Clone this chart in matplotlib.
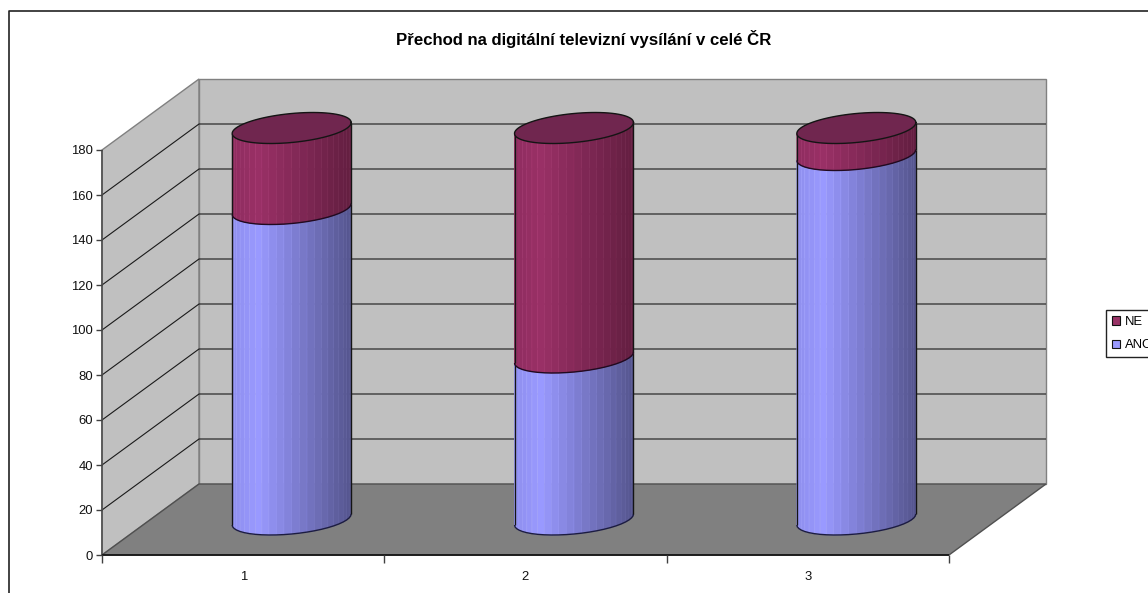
import numpy as np
import matplotlib
matplotlib.use('Agg')
import matplotlib.pyplot as plt
from matplotlib.lines import Line2D
from matplotlib.patches import Patch

categories = ['1', '2', '3']
ano = [138, 72, 162]
ne = [36, 102, 12]
ticks = [0, 20, 40, 60, 80, 100, 120, 140, 160, 180]
title = 'Přechod na digitální televizní vysílání v celé ČR'

W, H = 1148, 593
plt.rcParams['font.family'] = ['Liberation Sans', 'DejaVu Sans']
FS = 9.4

fig = plt.figure(figsize=(W / 100, H / 100), dpi=100)
# front plane of the fake 3D box, in pixels: x 102-949, y 555-150
ax = fig.add_axes([102 / W, (H - 555) / H, 847 / W, 405 / H])
ax.set_xlim(0.5, 3.5)
ax.set_ylim(0, 180)
ax.axis('off')

# depth of the box and cylinder size, in data units
DX = 97 / (847 / 3)
DY = 71 / 2.25
RX = 59.5 / (847 / 3)
RY = 14.5 / 2.25
TILT = 5.5 / 2.25
GRAY = '#808080'


def flat(xs, ys, color, z, edge='none'):
    ax.fill(xs, ys, facecolor=color, edgecolor=edge, lw=1, zorder=z, clip_on=False)


def seg(xs, ys, color, lw, z):
    ax.plot(xs, ys, color=color, lw=lw, zorder=z, clip_on=False, solid_capstyle='butt')


# walls and floor
flat([0.5, 0.5 + DX, 0.5 + DX, 0.5], [0, DY, 180 + DY, 180], '#c0c0c0', 1, GRAY)
flat([0.5 + DX, 3.5 + DX, 3.5 + DX, 0.5 + DX], [DY, DY, 180 + DY, 180 + DY], '#c0c0c0', 1, GRAY)
flat([0.5, 3.5, 3.5 + DX, 0.5 + DX], [0, 0, DY, DY], GRAY, 2, '#505050')

# gridlines
for v in ticks[1:-1]:
    seg([0.5, 0.5 + DX, 3.5 + DX], [v, v + DY, v + DY], '#1a1a1a', 0.8, 3)

# axes
seg([0.5, 0.5], [0, 180], '#505050', 1.2, 4)
seg([0.5, 3.5], [0, 0], '#101010', 1.2, 4)
for v in ticks:
    seg([0.5 - 6 / 282.3, 0.5], [v, v], '#404040', 1, 4)
    ax.text(0.5 - 9 / 282.3, v - 1.5 / 2.25, str(v), ha='right', va='center', fontsize=FS,
            color='#111111')
for b in [0.5, 1.5, 2.5, 3.5]:
    seg([b, b], [0, -8 / 2.25], '#404040', 1, 4)
for i, c in enumerate(categories):
    ax.text(i + 1, -21.5 / 2.25, c, ha='center', va='center', fontsize=FS, color='#111111')


def cylinder(cat, v0, v1, light, dark, top, z):
    cx = cat + DX / 2
    b = v0 + DY / 2
    e = v1 + DY / 2
    # front half of the ring, left to right
    t = np.linspace(np.pi, 2 * np.pi, 25)
    fx = cx + RX * np.cos(t)
    fy = RY * np.sin(t) + TILT * np.cos(t)
    peak = 0.22
    for k in range(len(t) - 1):
        pos = (0.5 * (fx[k] + fx[k + 1]) - (cx - RX)) / (2 * RX)
        mix = max(0, pos - peak) / (1 - peak)
        col = np.array(light) * (1 - mix) + np.array(dark) * mix
        if pos < peak:
            col = col * (0.93 + 0.07 * pos / peak)
        ax.fill([fx[k], fx[k + 1], fx[k + 1], fx[k]],
                [b + fy[k], b + fy[k + 1], e + fy[k + 1], e + fy[k]], facecolor=col / 255,
                edgecolor=np.minimum(col * 1.1, 255) / 255, lw=0.4, zorder=z, clip_on=False)
    seg(fx, b + fy, '#1c1c40' if v0 == 0 else '#200a20', 1, z + 0.1)
    seg([fx[0], fx[0]], [b + fy[0], e + fy[0]], '#141414', 1, z + 0.1)
    seg([fx[-1], fx[-1]], [b + fy[-1], e + fy[-1]], '#141414', 1, z + 0.1)
    if top is not None:
        a = np.linspace(0, 2 * np.pi, 80)
        ex = cx + RX * np.cos(a)
        ey = e + RY * np.sin(a) + TILT * np.cos(a)
        flat(ex, ey, top, z + 0.2)
        ax.plot(ex, ey, color='#141414', lw=1, zorder=z + 0.3, clip_on=False)


for i in range(len(categories)):
    cylinder(i + 1, 0, ano[i], (153, 153, 255), (84, 84, 140), None, 5)
    cylinder(i + 1, ano[i], ano[i] + ne[i], (153, 48, 102), (98, 30, 64), '#70264f', 6)

fig.text(584 / W, 1 - 39 / H, title, ha='center', va='center', fontsize=12.1, fontweight='bold',
         color='#000000')

# chart area border, cropped on the right and bottom
fig.add_artist(Line2D([9 / W, 9 / W, 1], [0, 1 - 11 / H, 1 - 11 / H], color='#222222', lw=1.2))

# the ANO label runs off the right edge, same as in the source picture
handles = [Patch(facecolor='#993366', edgecolor='#111111', lw=0.8),
           Patch(facecolor='#9999ff', edgecolor='#111111', lw=0.8)]
fig.legend(handles, ['NE', 'ANO'], loc='upper left', bbox_to_anchor=(1106 / W, 1 - 310 / H),
           bbox_transform=fig.transFigure, fontsize=FS, frameon=True, fancybox=False,
           edgecolor='#222222', framealpha=1, borderaxespad=0, borderpad=0.45, handlelength=0.62,
           handleheight=0.62, handletextpad=0.4, labelspacing=0.88)

fig.savefig('out.png', dpi=100)
